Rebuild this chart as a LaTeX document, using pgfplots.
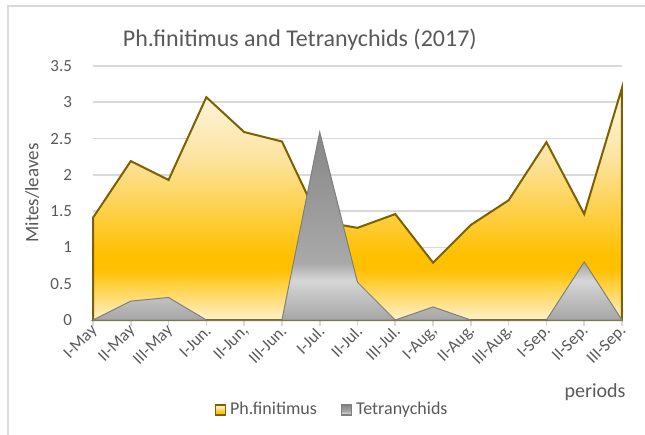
\documentclass[border=0pt]{standalone}
\usepackage{pgfplots}
\pgfplotsset{compat=1.18}
\usepackage{fontspec}
\setmainfont{Carlito}
\definecolor{txt}{HTML}{595959}
\definecolor{gold}{HTML}{7F6000}
\definecolor{grayline}{HTML}{7F7F7F}
\definecolor{gridc}{HTML}{D9D9D9}
\pgfdeclareverticalshading{yellowgrad}{100bp}{color(0bp)=({rgb,255:red,255;green,242;blue,204});
  color(25bp)=({rgb,255:red,255;green,242;blue,204});
  color(36bp)=({rgb,255:red,255;green,192;blue,0});
  color(39bp)=({rgb,255:red,255;green,192;blue,0});
  color(60bp)=({rgb,255:red,252;green,228;blue,160});
  color(75bp)=({rgb,255:red,253;green,246;blue,228});
  color(100bp)=({rgb,255:red,253;green,246;blue,228})}
\pgfdeclareverticalshading{graygrad}{100bp}{color(0bp)=({rgb,255:red,166;green,166;blue,166});
  color(25bp)=({rgb,255:red,166;green,166;blue,166});
  color(35.5bp)=({rgb,255:red,214;green,214;blue,214});
  color(40bp)=({rgb,255:red,169;green,169;blue,169});
  color(75bp)=({rgb,255:red,135;green,135;blue,135});
  color(100bp)=({rgb,255:red,135;green,135;blue,135})}
\begin{document}
\begin{tikzpicture}
\useasboundingbox (0,0) rectangle (322.5pt,217.5pt);
\draw[gridc, line width=0.6pt] (4pt,-5pt) -- (4pt,214.5pt) -- (330pt,214.5pt);
\begin{axis}[
  at={(46.5pt,57.5pt)}, anchor=south west,
  scale only axis, width=264.5pt, height=127pt,
  xmin=0, xmax=14, ymin=0, ymax=3.5,
  clip=false,
  axis x line*=bottom, axis y line*=left,
  x axis line style={draw=gridc, line width=0.8pt},
  y axis line style={draw=none},
  ytick={0,0.5,1,1.5,2,2.5,3,3.5},
  yticklabels={0,0.5,1,1.5,2,2.5,3,3.5},
  ymajorgrids, grid style={draw=gridc, line width=0.8pt},
  ytick style={draw=none},
  xtick={0,...,14},
  xticklabels={I-May,II-May,III-May,I-Jun.,{II-Jun,},III-Jun.,I-Jul.,II-Jul.,III-Jul.,{I-Aug,},II-Aug.,III-Aug.,I-Sep.,II-Sep.,III-Sep.},
  xtick style={draw=gridc, line width=0.8pt},
  tick align=outside, major tick length=3pt,
  xticklabel style={rotate=45, anchor=east, font=\fontsize{8.5}{9}\selectfont, text=txt, inner sep=1pt, yshift=-1.5pt, xshift=1pt},
  yticklabel style={font=\fontsize{8.5}{10}\selectfont, text=txt, xshift=-4pt},
  /pgf/number format/assume math mode=true,
  legend style={at={(0.454,-0.354)}, anchor=center, draw=none, legend columns=2,
    font=\fontsize{9}{10}\selectfont, text=txt, /tikz/every even column/.append style={column sep=10pt}},
  legend image code/.code={\draw[#1, line width=0.6pt] (0pt,-2.5pt) rectangle (5pt,2.5pt);},
]
\addplot[draw=gold, line width=1pt, shading=yellowgrad] coordinates {
(0,1.41) (1,2.19) (2,1.93) (3,3.07) (4,2.59) (5,2.46) (6,1.36) (7,1.27)
(8,1.46) (9,0.79) (10,1.31) (11,1.65) (12,2.45) (13,1.46) (14,3.20)} \closedcycle;
\addlegendentry{Ph.finitimus}
\addplot[draw=grayline, line width=0.5pt, shading=graygrad] coordinates {
(0,0) (1,0.26) (2,0.31) (3,0) (4,0) (5,0) (6,2.59) (7,0.52)
(8,0) (9,0.18) (10,0) (11,0) (12,0) (13,0.80) (14,0)} \closedcycle;
\addlegendentry{Tetranychids}
\node[font=\fontsize{12}{14}\selectfont, text=txt] at (rel axis cs:0.391,1.102) {Ph.finitimus and Tetranychids (2017)};
\node[font=\fontsize{10}{12}\selectfont, text=txt] at (rel axis cs:0.949,-0.283) {periods};
\node[font=\fontsize{9.5}{11}\selectfont, text=txt, rotate=90] at (rel axis cs:-0.115,0.5) {Mites/leaves};
\end{axis}
\end{tikzpicture}
\end{document}
